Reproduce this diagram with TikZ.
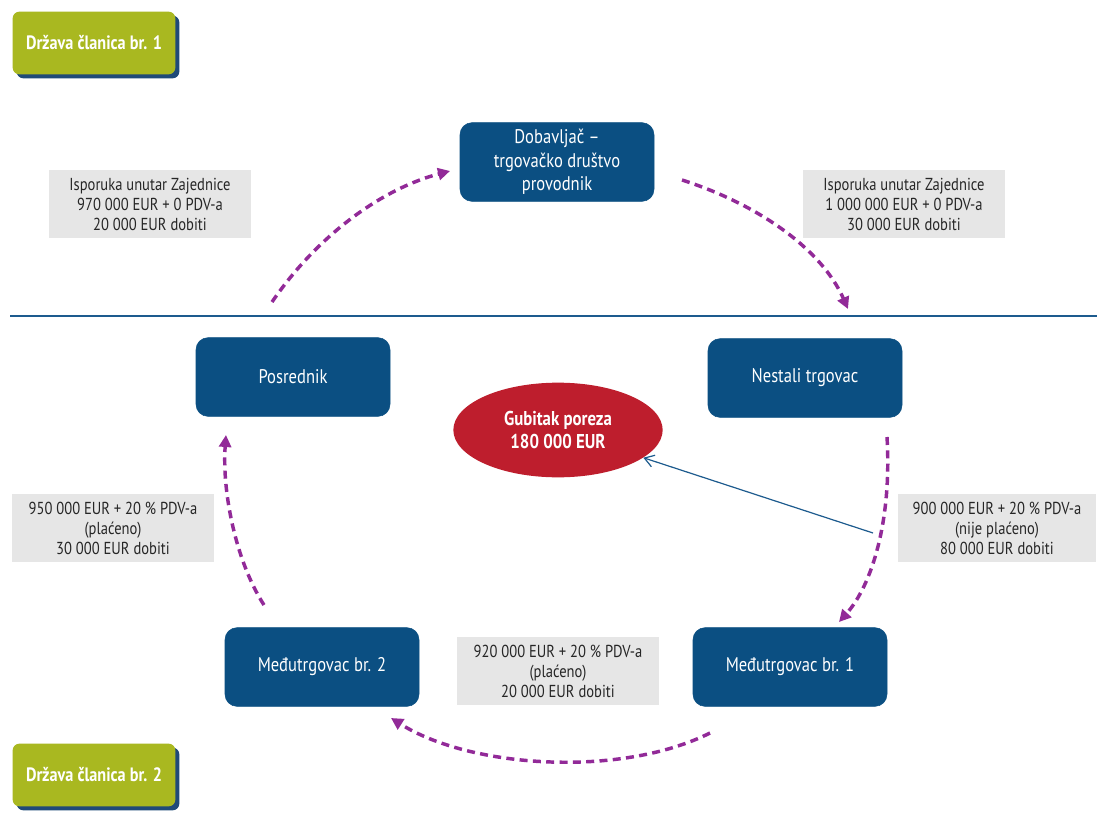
\documentclass[tikz,border=0pt]{standalone}
\usepackage{fontspec}
\setmainfont{PT Sans}[FakeStretch=0.84]
\usetikzlibrary{arrows.meta,shapes.geometric}
\definecolor{boxblue}{HTML}{0B4F82}
\definecolor{lineblue}{HTML}{1D5B8E}
\definecolor{tabgreen}{HTML}{A9B820}
\definecolor{shadowblue}{HTML}{1F4A78}
\definecolor{labelgray}{HTML}{E6E6E6}
\definecolor{arrowpurple}{HTML}{922A98}
\definecolor{lossred}{HTML}{BE1E2D}
\tikzset{
  actor/.style={draw=boxblue, fill=boxblue, rounded corners=9pt, text=white, minimum width=145.5pt, minimum height=59pt, align=center, font=\fontsize{14.8}{17.6}\selectfont, inner sep=0pt},
  info/.style={fill=labelgray, minimum width=152pt, minimum height=51pt, align=center, font=\fontsize{13}{15}\selectfont, text=black!85, inner sep=0pt},
  tab/.style={fill=tabgreen, rounded corners=5pt, minimum width=122pt, minimum height=47pt, text=white, font=\bfseries\fontsize{14.5}{16}\selectfont, inner sep=0pt},
  tabshadow/.style={fill=shadowblue, rounded corners=5pt, minimum width=122pt, minimum height=47pt, inner sep=0pt},
  flow/.style={draw=arrowpurple, line width=2.6pt, dash pattern=on 6pt off 4pt, -{Triangle[length=9pt,width=9pt]}},
  pointer/.style={draw=lineblue, line width=0.9pt, -{Straight Barb[length=7pt,width=9pt]}}
}
\begin{document}
\begin{tikzpicture}[x=0.75pt,y=-0.75pt]
\useasboundingbox (0,0) rectangle (1097,814);
\fill[white] (0,0) rectangle (1097,814);
% tabs
\node[tabshadow] (tab1s) at (98,47) {};
\node[tab] (tab1) at (94,43) {Država članica br. 1};
\node[tabshadow] (tab2s) at (98,779) {};
\node[tab] (tab2) at (94,775) {Država članica br. 2};
% border line
\coordinate (lineL) at (10,316);
\coordinate (lineR) at (1097,316);
\draw[lineblue, line width=1.8pt] (lineL) -- (lineR);
% actors
\node[actor] (dob) at (557,162) {Dobavljač –\\trgovačko društvo\\provodnik};
\node[actor] (pos) at (293,377) {Posrednik};
\node[actor] (nes) at (805,378) {Nestali trgovac};
\node[actor] (med2) at (322,667) {Međutrgovac br. 2};
\node[actor] (med1) at (790,667) {Međutrgovac br. 1};
% loss ellipse
\node[ellipse, fill=lossred, minimum width=157pt, minimum height=71pt, text=white, font=\bfseries\fontsize{15}{17.5}\selectfont, align=center, inner sep=0pt] (loss) at (558,430) {Gubitak poreza\\180 000 EUR};
% info labels
\node[info] (i1) at (150,204) {Isporuka unutar Zajednice\\970 000 EUR + 0 PDV-a\\20 000 EUR dobiti};
\node[info] (i2) at (904,204) {Isporuka unutar Zajednice\\1 000 000 EUR + 0 PDV-a\\30 000 EUR dobiti};
\node[info] (i3) at (113,528) {950 000 EUR + 20 \% PDV-a\\(plaćeno)\\30 000 EUR dobiti};
\node[info, minimum width=148pt] (i4) at (997,528) {900 000 EUR + 20 \% PDV-a\\(nije plaćeno)\\80 000 EUR dobiti};
\node[info] (i5) at (558,671) {920 000 EUR + 20 \% PDV-a\\(plaćeno)\\20 000 EUR dobiti};
% flow endpoints
\coordinate (a1s) at (272,302); \coordinate (a1e) at (450,171);
\coordinate (a2s) at (682,180); \coordinate (a2e) at (848,309);
\coordinate (a3s) at (887,437); \coordinate (a3e) at (839,622);
\coordinate (a4s) at (710,733); \coordinate (a4e) at (391,718);
\coordinate (a5s) at (264,605); \coordinate (a5e) at (226,435);
\coordinate (ps) at (873,533);
\draw[flow] (a1s) .. controls (320,232) and (385,188) .. (a1e);
\draw[flow] (a2s) .. controls (760,205) and (822,250) .. (a2e);
\draw[flow] (a3s) .. controls (892,520) and (872,585) .. (a3e);
\draw[flow] (a4s) .. controls (620,778) and (470,768) .. (a4e);
\draw[flow] (a5s) .. controls (235,560) and (222,490) .. (a5e);
\draw[pointer] (ps) -- (loss.-18);
\end{tikzpicture}
\end{document}
